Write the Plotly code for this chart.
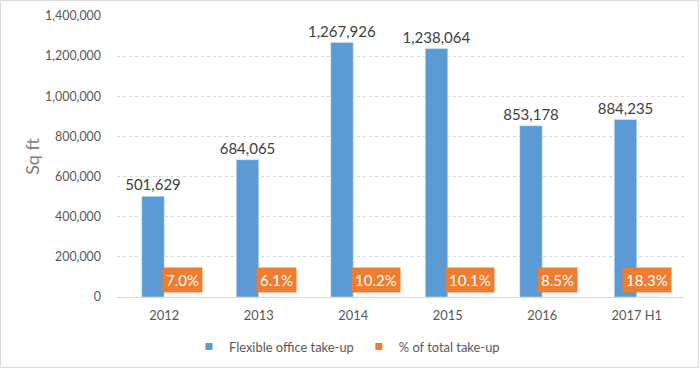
import plotly.graph_objects as go

categories = ["2012", "2013", "2014", "2015", "2016", "2017 H1"]
take_up = [501629, 684065, 1267926, 1238064, 853178, 884235]
pct_total = [7.0, 6.1, 10.2, 10.1, 8.5, 18.3]
y_ticks = [0, 200000, 400000, 600000, 800000, 1000000, 1200000, 1400000]

BLUE = "#5B9BD5"
ORANGE = "#ED7D31"
FONT = "Lato"

# horizontal nudges of the percentage boxes (styling only)
label_dx = [18.5, 17.3, 22.9, 22.4, 15.6, 10.2]

fig = go.Figure()
fig.add_trace(go.Bar(
    x=categories, y=take_up, name="Flexible office take-up",
    marker_color=BLUE, width=0.238, offset=-0.238,
    text=[f"{v:,}" for v in take_up], textposition="outside",
    constraintext="none",
    textfont=dict(family=FONT, size=15, color="#404040"),
    cliponaxis=False, showlegend=False,
))
fig.add_trace(go.Bar(
    x=categories, y=pct_total, name="% of total take-up",
    marker_color=ORANGE, width=0.238, offset=0.0,
    yaxis="y2", showlegend=False,
))
# legend entries with small square keys
fig.add_trace(go.Scatter(x=[categories[0]], y=[None], mode="markers", name="Flexible office take-up",
                         marker=dict(symbol="square", size=7, color=BLUE), hoverinfo="skip"))
fig.add_trace(go.Scatter(x=[categories[0]], y=[None], mode="markers", name="% of total take-up",
                         marker=dict(symbol="square", size=7, color=ORANGE), hoverinfo="skip"))

for i, p in enumerate(pct_total):
    fig.add_annotation(
        x=i, y=0, xref="x", yref="y", text=f"{p:.1f}%",
        showarrow=False, xanchor="center", yanchor="middle",
        xshift=label_dx[i], yshift=17.5,
        bgcolor=ORANGE, borderpad=3,
        font=dict(family=FONT, size=15, color="white"),
    )

fig.add_shape(type="rect", xref="paper", yref="paper",
              x0=(0.5 - 117) / 567, x1=(698.5 - 117) / 567,
              y0=(297 - 367.5) / 281, y1=1 + (16 - 0.5) / 281,
              line=dict(color="#D9D9D9", width=1), fillcolor="rgba(0,0,0,0)", layer="below")

fig.update_layout(
    width=699, height=368,
    margin=dict(l=117, r=15, t=16, b=71, autoexpand=False),
    paper_bgcolor="white", plot_bgcolor="white",
    font=dict(family=FONT, size=12.9, color="#595959"),
    xaxis=dict(type="category", range=[-0.5, 5.5], autorange=False, automargin=False,
               showgrid=False, showline=False, ticks="", ticklabelstandoff=9,
               tickfont=dict(family=FONT, size=12.9, color="#595959")),
    yaxis=dict(range=[0, 1400000], tickvals=y_ticks, tickformat=",", automargin=False,
               showgrid=True, gridcolor="#D9D9D9", griddash="dot", gridwidth=1,
               zeroline=True, zerolinecolor="#D9D9D9", zerolinewidth=1,
               showline=False, ticks="", ticklabelstandoff=15,
               tickfont=dict(family=FONT, size=12.4, color="#595959"),
               title=dict(text="Sq ft", font=dict(family=FONT, size=18, color="#808080"), standoff=0)),
    yaxis2=dict(overlaying="y", range=[0, 100000], visible=False),
    showlegend=True,
    legend=dict(orientation="h", x=(189 - 117) / 567, xanchor="left",
                y=(297 - 346.7) / 281, yanchor="middle",
                font=dict(family=FONT, size=12.9, color="#595959"),
                bgcolor="rgba(0,0,0,0)"),
)

fig.write_html("out.html",
               config={"displayModeBar": False},
               post_script="document.body.style.margin='0';document.body.style.padding='0';")
